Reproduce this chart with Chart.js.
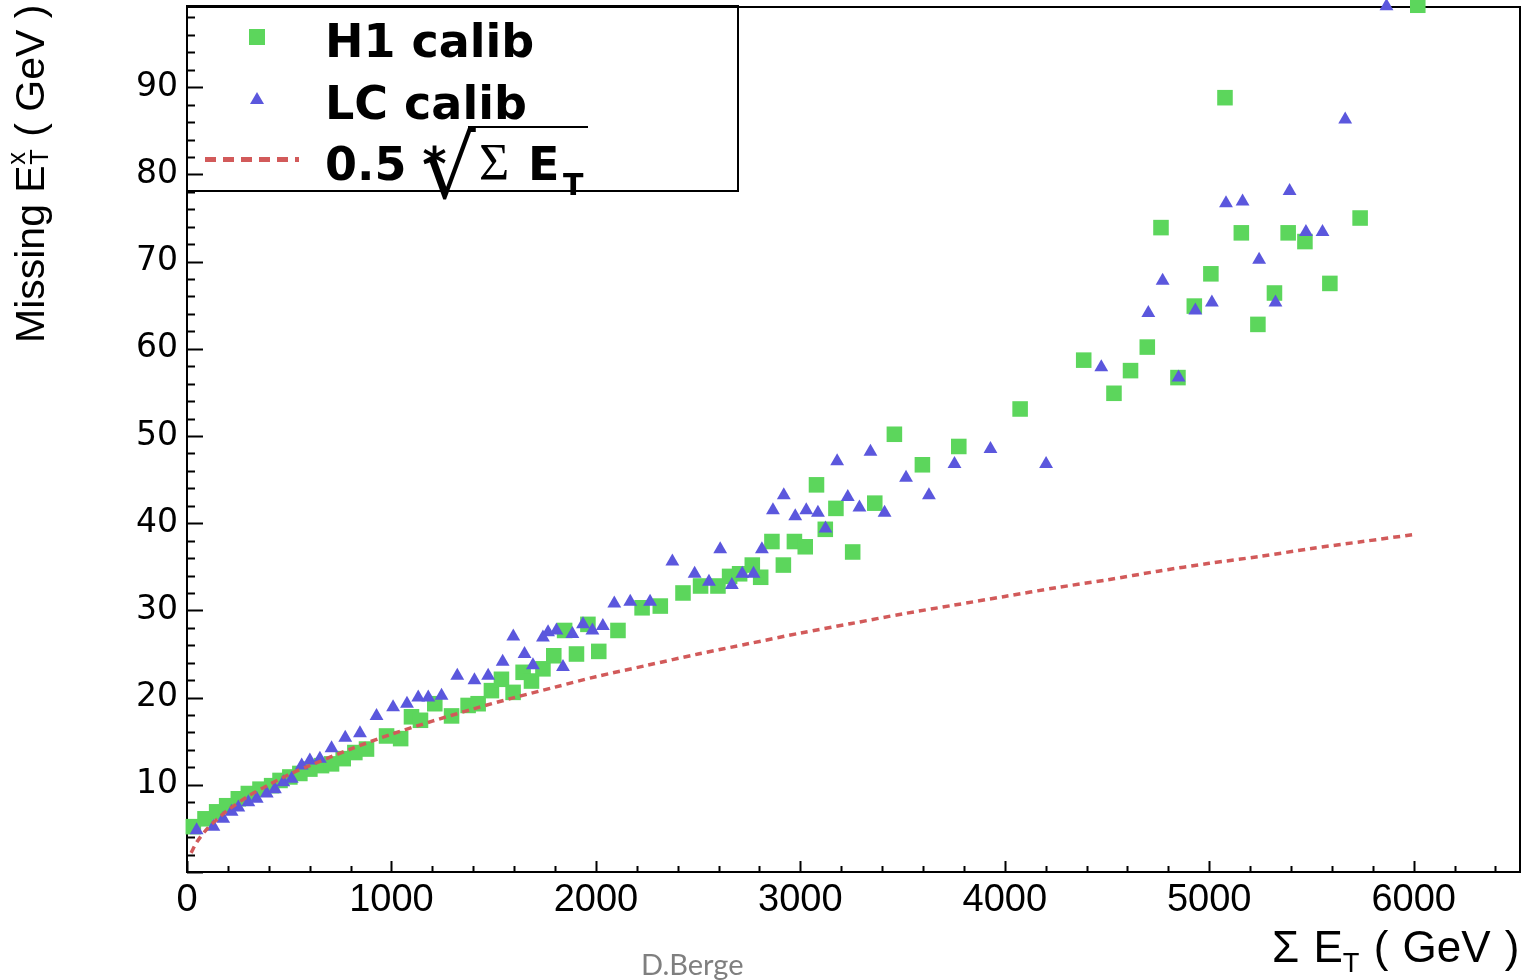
<!DOCTYPE html>
<html><head><meta charset="utf-8">
<script src="https://cdn.jsdelivr.net/npm/chart.js@4.4.1/dist/chart.umd.min.js"></script>
<style>
html,body{margin:0;padding:0;background:#fff;}
#wrap{position:relative;width:1527px;height:980px;overflow:hidden;background:#fff;}
#c{position:absolute;left:0;top:0;}
.t{position:absolute;white-space:nowrap;line-height:1;color:#000;}
.lg{font-family:'DejaVu Sans';font-weight:bold;font-size:46px;}
sub{font-size:0.62em;vertical-align:-0.35em;line-height:0;}
</style></head><body>
<div id="wrap">
<canvas id="c" width="1527" height="980"></canvas>

<div style="position:absolute;left:186px;top:5px;width:553px;height:187px;border:2px solid #000;box-sizing:border-box;"></div>
<div style="position:absolute;left:249px;top:29px;width:16px;height:16px;background:#5cd65c;"></div>
<div style="position:absolute;left:250px;top:92px;width:0;height:0;border-left:7px solid transparent;border-right:7px solid transparent;border-bottom:12px solid #5b57dd;"></div>
<div style="position:absolute;left:205px;top:157px;width:94px;height:5px;background:repeating-linear-gradient(to right,#d25a5a 0 11px,transparent 11px 18px);"></div>
<div class="t lg" style="left:325px;top:18px;">H1 calib</div>
<div class="t lg" style="left:325px;top:80px;">LC calib</div>
<div class="t lg" style="left:325px;top:141px;">0.5 *</div>
<div class="t" style="left:421px;top:125px;font-family:'DejaVu Sans';font-size:86px;">√</div>
<div style="position:absolute;left:468px;top:126px;width:120px;height:0;border-top:2px solid #000;"></div>
<div class="t" style="left:479px;top:137px;font-family:'Liberation Serif';font-size:52px;">Σ</div>
<div class="t lg" style="left:528px;top:141px;">E</div>
<div class="t" style="left:563px;top:170px;font-family:'DejaVu Sans';font-weight:bold;font-size:30px;">T</div>

<div class="t" style="left:10px;top:343px;transform-origin:0 0;transform:rotate(-90deg);font-family:'Liberation Sans';font-size:41px;">Missing E<span style="display:inline-block;position:relative;width:0.42em;height:0.8em;"><span style="position:absolute;left:0.02em;top:-0.28em;font-size:0.62em;">x</span><span style="position:absolute;left:0.02em;top:0.62em;font-size:0.62em;">T</span></span> ( GeV )</div>
<div class="t" style="left:1272px;top:925px;font-family:'Liberation Sans';font-size:44px;word-spacing:2px;">Σ E<sub>T</sub> ( GeV )</div>
<div class="t" style="left:641px;top:949px;font-family:'Lato';font-size:29px;color:#7f7f7f;">D.Berge</div>
</div>
<script>
// ---- data ----
const h1SumEt = [31,88,145,194,251,300,357,414,455,503,552,601,658,707,764,821,878,976,1045,
  1098,1142,1212,1294,1375,1424,1489,1538,1595,1644,1685,1741,1794,1847,1905,1961,2014,2108,
  2226,2315,2426,2512,2597,2654,2703,2765,2806,2861,2917,2971,3024,3079,3122,3174,3256,3364,3460,3597,3775,
  4075,4386,4534,4615,4697,4764,4847,4927,5008,5077,5157,5238,5319,5386,5468,5590,5738,6020];
const h1MissEt = [5.2,6.1,6.9,7.6,8.4,9.0,9.5,9.9,10.5,10.9,11.3,11.8,12.2,12.4,13.0,13.7,14.1,15.6,15.3,
  17.8,17.4,19.3,17.9,19.1,19.3,20.8,22.1,20.6,22.9,21.9,23.3,24.8,27.7,25.0,28.4,25.3,27.7,
  30.3,30.5,32.0,32.8,32.8,33.9,34.2,35.2,33.8,37.9,35.2,37.9,37.3,44.4,39.3,41.7,36.7,42.3,50.2,46.7,48.8,
  53.1,58.7,54.9,57.5,60.2,73.9,56.7,64.9,68.6,88.8,73.3,62.8,66.4,73.3,72.3,67.5,75.0,99.4];

const lcSumEt = [47,129,177,218,251,300,341,390,430,471,512,561,601,650,707,774,846,927,1008,
  1076,1131,1180,1245,1322,1406,1473,1544,1596,1651,1692,1741,1766,1807,1839,1885,1937,1983,2034,
  2090,2168,2265,2374,2483,2553,2608,2665,2716,2771,2812,2866,2919,2975,3029,3086,3123,3180,3232,3289,3343,3412,
  3517,3629,3754,3930,4202,4472,4702,4772,4850,4932,5013,5082,5163,5244,5324,5393,5473,5554,5665,5867];
const lcMissEt = [4.8,5.2,6.1,6.9,7.4,8.0,8.4,9.0,9.5,10.3,10.7,12.2,12.8,13.0,14.2,15.4,15.9,17.9,18.9,
  19.3,20.0,20.0,20.2,22.5,22.0,22.5,24.1,27.0,25.0,23.7,26.9,27.5,27.7,23.5,27.3,28.4,27.7,28.2,
  30.8,31.0,31.0,35.6,34.2,33.3,37.0,32.9,34.2,34.2,37.0,41.5,43.2,40.8,41.5,41.2,39.4,47.1,43.0,41.8,48.2,41.2,
  45.2,43.2,46.8,48.5,46.8,57.9,64.1,67.8,56.7,64.4,65.3,76.7,76.9,70.2,65.3,78.1,73.4,73.4,86.3,99.3];

const refSumEt = [20,50,100,150,200,300,400,500,600,800,1000,1200,1400,1600,1800,2000,2250,2500,2750,
  3000,3250,3500,3750,4000,4250,4500,4750,5000,5250,5500,5750,6000];
const refMissEt = [2.2,3.5,5.0,6.1,7.1,8.7,10.0,11.2,12.2,14.1,15.8,17.3,18.7,20.0,21.2,22.4,23.7,25.0,26.2,
  27.4,28.5,29.6,30.6,31.6,32.6,33.5,34.5,35.4,36.2,37.1,37.9,38.7];

const xTickLabels = [0,1000,2000,3000,4000,5000,6000];
const yTickLabels = [10,20,30,40,50,60,70,80,90];

const GREEN = '#5cd65c', BLUE = '#5b57dd', RED = '#d25a5a';

const toXY = (xs, ys) => xs.map((x, i) => ({x: x, y: ys[i]}));

const framePlugin = {
  id: 'rootFrame',
  beforeDatasetsDraw(chart) {
    const {ctx, chartArea: a, scales} = chart;
    const xs = scales.x, ys = scales.y;
    ctx.save();
    ctx.strokeStyle = '#000';
    ctx.lineWidth = 2;
    ctx.strokeRect(a.left, a.top, a.right - a.left, a.bottom - a.top);
    ctx.beginPath();
    for (let v = 0; v <= 98; v += 2) {
      const p = Math.round(ys.getPixelForValue(v)) + 0.5;
      const L = v % 10 === 0 ? 16 : 8;
      ctx.moveTo(a.left, p); ctx.lineTo(a.left + L, p);
    }
    for (let v = 0; v <= 6400; v += 200) {
      const p = Math.round(xs.getPixelForValue(v)) + 0.5;
      const L = v % 1000 === 0 ? 11 : 6;
      ctx.moveTo(p, a.bottom); ctx.lineTo(p, a.bottom - L);
    }
    ctx.stroke();
    ctx.restore();
  }
};

new Chart(document.getElementById('c'), {
  type: 'scatter',
  data: {
    datasets: [
      {label: '0.5 * sqrt(Sum ET)', type: 'line', data: toXY(refSumEt, refMissEt),
       borderColor: RED, borderWidth: 3.5, borderDash: [7, 5], pointRadius: 0, fill: false,
       tension: 0.3, order: 0, clip: false},
      {label: 'LC calib', data: toXY(lcSumEt, lcMissEt), pointStyle: 'triangle', pointRadius: 8,
       backgroundColor: BLUE, borderColor: BLUE, borderWidth: 0, order: 1, clip: false},
      {label: 'H1 calib', data: toXY(h1SumEt, h1MissEt), pointStyle: 'rect', pointRadius: 11,
       backgroundColor: GREEN, borderColor: GREEN, borderWidth: 0, order: 2, clip: false}
    ]
  },
  options: {
    responsive: false, animation: false, devicePixelRatio: 1,
    layout: {autoPadding: false, padding: {left: 0, right: 7, top: 7, bottom: 0}},
    plugins: {legend: {display: false}, tooltip: {enabled: false}},
    scales: {
      x: {type: 'linear', min: 0, max: 6520,
          grid: {display: false, drawTicks: false}, border: {display: false},
          ticks: {padding: 6, maxRotation: 0, minRotation: 0, autoSkip: false, color: '#000',
                  font: {family: 'Liberation Sans', size: 38},
                  callback: v => String(v)},
          afterBuildTicks: s => { s.ticks = xTickLabels.map(v => ({value: v})); },
          afterFit: s => { s.height = 108; s.paddingLeft = 0; s.paddingRight = 0; }},
      y: {type: 'linear', min: 0, max: 99.2,
          grid: {display: false, drawTicks: false}, border: {display: false},
          ticks: {padding: 9, autoSkip: false, color: '#000',
                  font: {family: 'DejaVu Sans', size: 33},
                  callback: v => String(v)},
          afterBuildTicks: s => { s.ticks = yTickLabels.map(v => ({value: v})); },
          afterFit: s => { s.width = 187; s.paddingTop = 0; s.paddingBottom = 0; }}
    }
  },
  plugins: [framePlugin]
});
</script>
</body></html>
